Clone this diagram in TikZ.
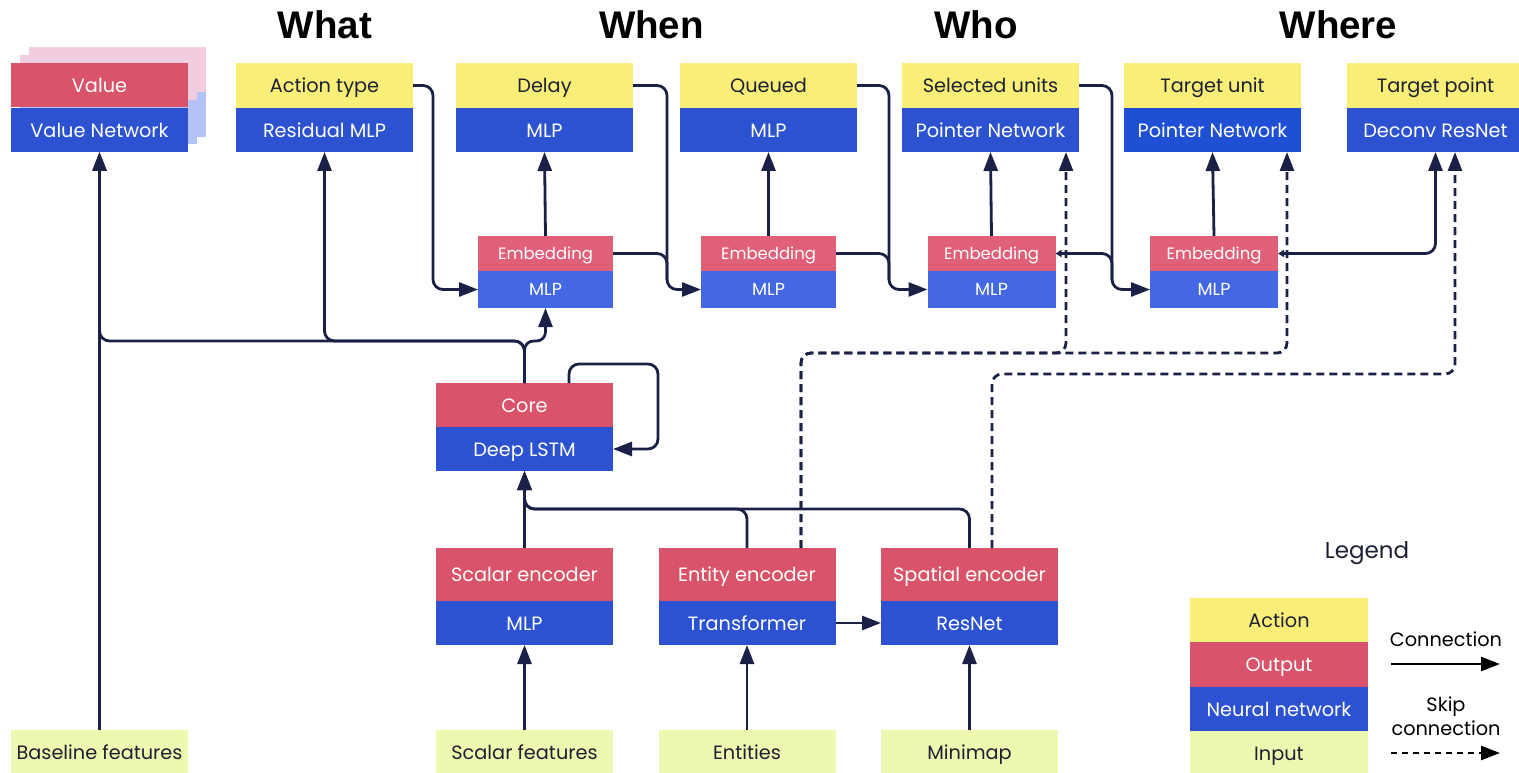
\documentclass[tikz,border=0pt]{standalone}
\usepackage{fontspec}
\setmainfont{Poppins}
\newfontfamily\headfont{Liberation Sans}
\usetikzlibrary{arrows.meta}

\definecolor{actY}{HTML}{F8EE78}
\definecolor{outR}{HTML}{D9536B}
\definecolor{netB}{HTML}{2C52D1}
\definecolor{netB2}{HTML}{1E4FD4}
\definecolor{embR}{HTML}{E0607A}
\definecolor{embB}{HTML}{4468E4}
\definecolor{inG}{HTML}{EFF8B0}
\definecolor{ink}{HTML}{1B2146}
\definecolor{txt}{HTML}{1D2033}
\definecolor{ghostR}{HTML}{F2CDE0}
\definecolor{ghostB}{HTML}{B3C2F8}

\begin{document}
\begin{tikzpicture}[x=1pt,y=-1pt,
  box/.style={rectangle, inner sep=0pt, outer sep=0pt, minimum width=177pt,
    font=\fontsize{19.3}{21}\selectfont, text height=16.5pt, text depth=2pt},
  actbox/.style={box, fill=actY, text=txt, minimum height=45pt},
  outbox/.style={box, fill=outR, text=white, minimum height=44pt},
  netbox/.style={box, fill=netB, text=white, minimum height=44pt},
  inbox/.style={box, fill=inG, text=txt, minimum height=45pt},
  encbox/.style={box, fill=outR, text=white, minimum height=53pt},
  embbox/.style={box, fill=embR, text=white, minimum height=35pt,
    font=\fontsize{16.5}{18}\selectfont, text height=14pt, text depth=2pt},
  embnet/.style={box, fill=embB, text=white, minimum height=37pt,
    font=\fontsize{17.5}{19}\selectfont, text height=14.5pt, text depth=2pt},
  head/.style={font=\headfont\bfseries\fontsize{38.5}{40}\selectfont, anchor=base},
  bigtip/.tip={Triangle[length=19pt,width=14pt]},
  smalltip/.tip={Triangle[length=6pt,width=7pt]},
  conn/.style={draw=ink, line width=2.8pt, rounded corners=10pt, -bigtip},
  skip/.style={conn, dash pattern=on 8pt off 5pt},
  legtxt/.style={font=\fontsize{19.3}{24}\selectfont, text=black, align=center}
]
\useasboundingbox (0,0) rectangle (1519,773);

% stacked copies behind the value head
\fill[ghostR] (29,47) rectangle (206,92);
\fill[ghostB] (29,92) rectangle (206,137);
\fill[ghostR] (20,55) rectangle (197,100);
\fill[ghostB] (20,100) rectangle (197,144);

% headings
\node[head] (hWhat)  at (325,38.5)  {What};
\node[head] (hWhen)  at (651.5,38.5) {When};
\node[head] (hWho)   at (976,38.5)  {Who};
\node[head] (hWhere) at (1338.5,38.5) {Where};

% action heads
\node[outbox] (valO) at (99.5,85.5) {Value};
\node[netbox] (valN) at (99.5,130)  {Value Network};
\node[actbox] (actY) at (324.5,85.5) {Action type};
\node[netbox] (actN) at (324.5,130)  {Residual MLP};
\node[actbox] (delY) at (544.5,85.5) {Delay};
\node[netbox] (delN) at (544.5,130)  {MLP};
\node[actbox] (queY) at (768.5,85.5) {Queued};
\node[netbox] (queN) at (768.5,130)  {MLP};
\node[actbox] (selY) at (990.5,85.5) {Selected units};
\node[netbox] (selN) at (990.5,130)  {Pointer Network};
\node[actbox] (tuY)  at (1212.5,85.5) {Target unit};
\node[netbox, fill=netB2] (tuN) at (1212.5,130) {Pointer Network};
\node[actbox] (tpY)  at (1435.5,85.5) {Target point};
\node[netbox] (tpN)  at (1435.5,130)  {Deconv ResNet};

% autoregressive embeddings
\node[embbox, minimum width=135pt] (e1O) at (545.5,253.5) {Embedding};
\node[embnet, minimum width=135pt] (e1N) at (545.5,289.5) {MLP};
\node[embbox, minimum width=135pt] (e2O) at (768.5,253.5) {Embedding};
\node[embnet, minimum width=135pt] (e2N) at (768.5,289.5) {MLP};
\node[embbox, minimum width=128pt] (e3O) at (991.5,253.5) {Embedding};
\node[embnet, minimum width=128pt] (e3N) at (991.5,289.5) {MLP};
\node[embbox, minimum width=128pt] (e4O) at (1214,253.5) {Embedding};
\node[embnet, minimum width=128pt] (e4N) at (1214,289.5) {MLP};

% core
\node[outbox] (coreO) at (524.5,405) {Core};
\node[netbox] (coreN) at (524.5,449) {Deep LSTM};

% encoders
\node[encbox] (scaO) at (524.5,574.5) {Scalar encoder};
\node[netbox] (scaN) at (524.5,623)   {MLP};
\node[encbox] (entO) at (747,574.5)   {Entity encoder};
\node[netbox] (entN) at (747,623)     {Transformer};
\node[encbox] (spaO) at (969.5,574.5) {Spatial encoder};
\node[netbox] (spaN) at (969.5,623)   {ResNet};

% inputs
\node[inbox] (baseIn) at (99.5,752.5)  {Baseline features};
\node[inbox] (scaIn)  at (524.5,752.5) {Scalar features};
\node[inbox] (entIn)  at (747,752.5)   {Entities};
\node[inbox] (spaIn)  at (969.5,752.5) {Minimap};

% legend
\node[font=\fontsize{23}{26}\selectfont, text=txt] (legT) at (1367,553) {Legend};
\node[actbox, minimum width=178pt, minimum height=44pt] (lgA) at (1279,620)   {Action};
\node[outbox, minimum width=178pt, minimum height=45pt] (lgO) at (1279,664.5) {Output};
\node[netbox, minimum width=178pt, minimum height=44pt] (lgN) at (1279,709)   {Neural network};
\node[inbox,  minimum width=178pt, minimum height=44pt] (lgI) at (1279,753)   {Input};
\node[legtxt] (lgC) at (1446,639) {Connection};
\node[legtxt] (lgS) at (1446,716) {Skip\\connection};
\coordinate (lc1) at (1391,664);
\coordinate (lc2) at (1500,664);
\coordinate (ls1) at (1391,753);
\coordinate (ls2) at (1500,753);
\draw[conn, draw=black, line width=2.4pt] (lc1) -- (lc2);
\draw[skip, draw=black, line width=2.4pt, dash pattern=on 6pt off 5pt] (ls1) -- (ls2);

% inputs into encoders
\draw[conn] (baseIn.north) -- (valN.south);
\draw[conn] (scaIn.north) -- (scaN.south);
\draw[conn] (entIn.north) -- (entN.south);
\draw[conn] (spaIn.north) -- (spaN.south);
\draw[conn] (entN.east) -- (spaN.west);

% encoders into core
\draw[conn] (scaO.north) -- (coreN.south);
\draw[conn] (entO.north) -- (747,509) -- (524.5,509) -- (coreN.south);
\draw[conn] (spaO.north) -- (969.5,509) -- (524.5,509) -- (coreN.south);

% core recurrence
\draw[conn] ([xshift=-44pt]coreO.north east) -- (569,364) -- (658,364) -- (658,449) -- (coreN.east);

% core into heads
\draw[conn] (coreO.north) -- (524.5,341) -- (99.5,341) -- (valN.south);
\draw[conn] (coreO.north) -- (524.5,341) -- (324.5,341) -- (actN.south);
\draw[conn, rounded corners=9pt] (coreO.north) -- (524.5,341) -- (545.5,341) -- (e1N.south);

% embeddings into heads
\draw[conn] (e1O.north) -- (delN.south);
\draw[conn] (e2O.north) -- (queN.south);
\draw[conn] (e3O.north) -- (selN.south);
\draw[conn] (e4O.north) -- (tuN.south);

% autoregressive chain
\draw[conn] (actY.east) -- (433,85.5) -- (433,289.5) -- (e1N.west);
\draw[conn] (delY.east) -- (667,85.5) -- (667,289.5) -- (e2N.west);
\draw[conn, -] (e1O.east) -- (667,253.5) -- (667,280);
\draw[conn] (queY.east) -- (889,85.5) -- (889,289.5) -- (e3N.west);
\draw[conn, -] (e2O.east) -- (889,253.5) -- (889,280);
\draw[conn] (selY.east) -- (1112,85.5) -- (1112,289.5) -- (e4N.west);
\draw[conn, smalltip-] (e3O.east) -- (1112,253.5) -- (1112,280);
\draw[conn, smalltip-bigtip] (e4O.east) -- (1435.5,253.5) -- (tpN.south);

% skip connections
\draw[skip] ([xshift=54pt]entO.north) -- (801,353) -- (1066,353) -- ([xshift=75.5pt]selN.south);
\draw[skip] ([xshift=54pt]entO.north) -- (801,353) -- (1287,353) -- ([xshift=74.5pt]tuN.south);
\draw[skip] ([xshift=22.5pt]spaO.north) -- (992,374) -- (1455,374) -- ([xshift=19.5pt]tpN.south);
\end{tikzpicture}
\end{document}
